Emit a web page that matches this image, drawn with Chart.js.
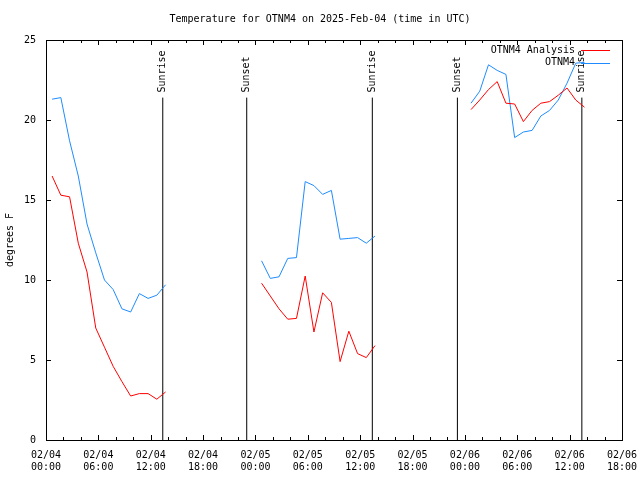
<!DOCTYPE html>
<html>
<head>
<meta charset="utf-8">
<script src="https://cdn.jsdelivr.net/npm/chart.js@4.4.1/dist/chart.umd.min.js"></script>
<style>
  html, body { margin: 0; padding: 0; background: #fff; }
  canvas { display: block; }
</style>
</head>
<body>
<canvas id="temp-chart" width="640" height="480"></canvas>
<script>
// hours since 02/04 00:00 UTC
const obsHours = [
  0.7, 1.7, 2.7, 3.7, 4.7, 5.7, 6.7, 7.7, 8.7, 9.7, 10.7, 11.7, 12.7, 13.7,
  24.7, 25.7, 26.7, 27.7, 28.7, 29.7, 30.7, 31.7, 32.7, 33.7, 34.7, 35.7, 36.7, 37.7,
  48.7, 49.7, 50.7, 51.7, 52.7, 53.7, 54.7, 55.7, 56.7, 57.7, 58.7, 59.7, 60.7, 61.7
];
const analysisTemps = [
  16.5, 15.3, 15.2, 12.3, 10.5, 7.0, 5.8, 4.6, 3.65, 2.75, 2.9, 2.9, 2.55, 3.0,
  9.8, 9.0, 8.2, 7.55, 7.6, 10.25, 6.75, 9.2, 8.6, 4.9, 6.8, 5.4, 5.15, 5.9,
  20.65, 21.25, 21.9, 22.4, 21.05, 21.0, 19.9, 20.6, 21.05, 21.15, 21.55, 22.0, 21.25, 20.8
];
const observedTemps = [
  21.3, 21.4, 18.7, 16.5, 13.5, 11.7, 10.0, 9.4, 8.2, 8.0, 9.15, 8.85, 9.05, 9.7,
  11.2, 10.1, 10.2, 11.35, 11.4, 16.15, 15.9, 15.35, 15.6, 12.55, 12.6, 12.65, 12.3, 12.75,
  21.05, 21.8, 23.45, 23.1, 22.85, 18.9, 19.25, 19.35, 20.25, 20.6, 21.25, 22.3, 23.55, 23.6
];
const sunHours = [13.38, 23.0, 37.39, 47.14, 61.4];
const sunLabels = ['Sunrise', 'Sunset', 'Sunrise', 'Sunset', 'Sunrise'];
const sunLineTop = 21.4;
const xTickLabels = [
  ['02/04', '00:00'], ['02/04', '06:00'], ['02/04', '12:00'], ['02/04', '18:00'],
  ['02/05', '00:00'], ['02/05', '06:00'], ['02/05', '12:00'], ['02/05', '18:00'],
  ['02/06', '00:00'], ['02/06', '06:00'], ['02/06', '12:00'], ['02/06', '18:00']
];
const seriesNames = ['OTNM4 Analysis', 'OTNM4'];
const seriesColors = ['#ff0000', '#1e8cff'];

const FONT = "'DejaVu Sans Mono', 'Liberation Mono', monospace";
Chart.defaults.font.family = FONT;
Chart.defaults.font.size = 10;
Chart.defaults.color = '#000';

function toPoints(values) {
  return values.map((v, i) => ({ x: obsHours[i], y: v }));
}

const datasets = [
  {
    label: seriesNames[0],
    data: toPoints(analysisTemps),
    borderColor: seriesColors[0],
    borderWidth: 1,
    spanGaps: 2
  },
  {
    label: seriesNames[1],
    data: toPoints(observedTemps),
    borderColor: seriesColors[1],
    borderWidth: 1,
    spanGaps: 2
  }
];
sunHours.forEach(h => {
  datasets.push({
    label: 'sun',
    data: [{ x: h, y: 0 }, { x: h, y: sunLineTop }],
    borderColor: '#000',
    borderWidth: 1
  });
});

// border box, inward ticks, sunrise/sunset labels and the key
const frame = {
  id: 'frame',
  afterDatasetsDraw(chart) {
    const { ctx, chartArea: a, scales: { x, y } } = chart;
    ctx.save();
    ctx.strokeStyle = '#000';
    ctx.lineWidth = 1;
    ctx.strokeRect(Math.round(a.left) + 0.5, Math.round(a.top) + 0.5,
      Math.round(a.right - a.left), Math.round(a.bottom - a.top));

    ctx.beginPath();
    for (let h = 0; h <= 66; h += 2) {
      const px = Math.round(x.getPixelForValue(h)) + 0.5;
      const len = h % 6 === 0 ? 5 : 3;
      ctx.moveTo(px, a.bottom); ctx.lineTo(px, a.bottom - len);
      ctx.moveTo(px, a.top); ctx.lineTo(px, a.top + len);
    }
    for (let t = 5; t < 25; t += 5) {
      const py = Math.round(y.getPixelForValue(t)) + 0.5;
      ctx.moveTo(a.left, py); ctx.lineTo(a.left + 5, py);
      ctx.moveTo(a.right, py); ctx.lineTo(a.right - 5, py);
    }
    ctx.stroke();

    ctx.fillStyle = '#000';
    ctx.font = '10px ' + FONT;
    sunHours.forEach((h, i) => {
      ctx.save();
      ctx.translate(x.getPixelForValue(h), y.getPixelForValue(sunLineTop) - 5);
      ctx.rotate(-Math.PI / 2);
      ctx.textAlign = 'left';
      ctx.textBaseline = 'middle';
      ctx.fillText(sunLabels[i], 0, 0);
      ctx.restore();
    });

    ctx.textAlign = 'right';
    ctx.textBaseline = 'middle';
    seriesNames.forEach((name, i) => {
      const ly = a.top + 10 + i * 12.5;
      ctx.fillText(name, a.right - 47, ly);
      ctx.strokeStyle = seriesColors[i];
      ctx.beginPath();
      ctx.moveTo(a.right - 41, Math.round(ly) + 0.5);
      ctx.lineTo(a.right - 12, Math.round(ly) + 0.5);
      ctx.stroke();
    });
    ctx.restore();
  }
};

new Chart(document.getElementById('temp-chart').getContext('2d'), {
  type: 'line',
  data: { datasets: datasets },
  options: {
    responsive: false,
    animation: false,
    devicePixelRatio: 1,
    layout: { padding: 0 },
    elements: { point: { radius: 0 }, line: { tension: 0 } },
    plugins: {
      legend: { display: false },
      tooltip: { enabled: false },
      title: {
        display: true,
        text: 'Temperature for OTNM4 on 2025-Feb-04 (time in UTC)',
        font: { size: 10, weight: 'normal' },
        color: '#000',
        padding: { top: 13, bottom: 15 }
      }
    },
    scales: {
      x: {
        type: 'linear',
        min: 0,
        max: 66,
        grid: { display: false, drawTicks: false },
        border: { display: false },
        ticks: {
          stepSize: 6,
          autoSkip: false,
          maxRotation: 0,
          padding: 8.75,
          font: { size: 10, lineHeight: 1.25 },
          callback: v => xTickLabels[Math.round(v / 6)]
        },
        afterFit: s => {
          s.height = 40;
          s.paddingLeft = 0;
          s.paddingRight = 18;
        }
      },
      y: {
        min: 0,
        max: 25,
        grid: { display: false, drawTicks: false },
        border: { display: false },
        ticks: { stepSize: 5, padding: 10 },
        title: {
          display: true,
          text: 'degrees F',
          font: { size: 10 },
          padding: { top: 4, bottom: 0 }
        },
        afterFit: s => {
          s.width = 46;
          s.paddingTop = 0;
          s.paddingBottom = 0;
        }
      }
    }
  },
  plugins: [frame]
});
</script>
</body>
</html>
